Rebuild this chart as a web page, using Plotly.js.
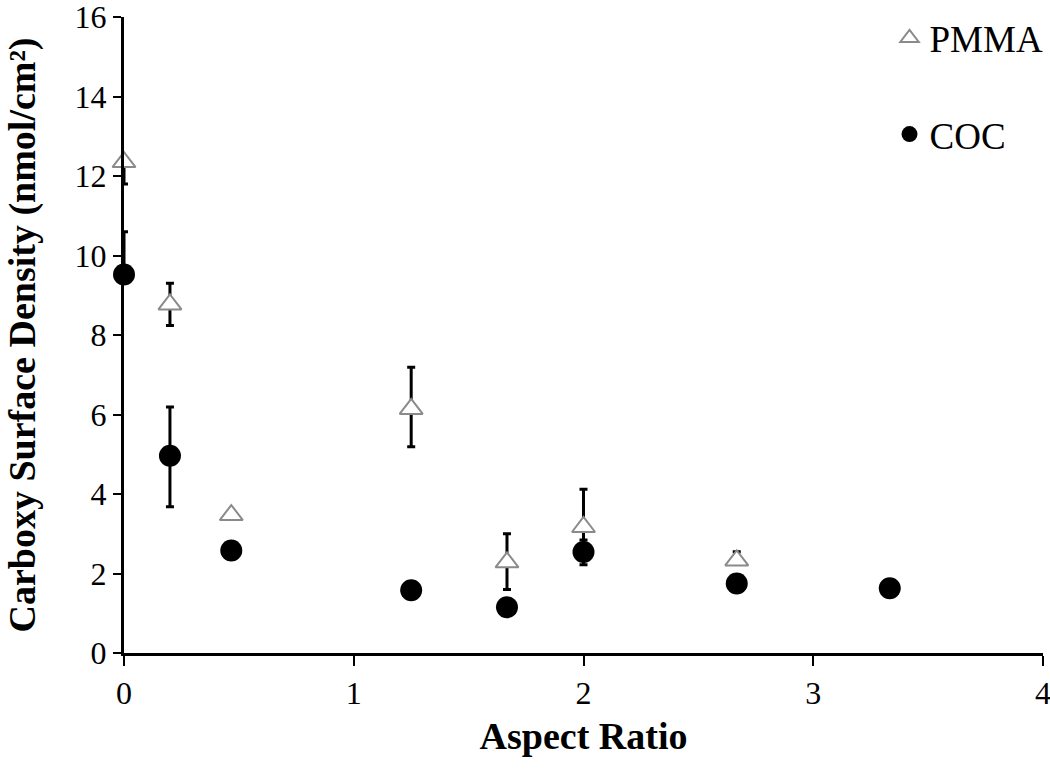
<!DOCTYPE html>
<html>
<head>
<meta charset="utf-8">
<script src="https://cdn.plot.ly/plotly-3.0.1.min.js"></script>
<style>html,body{margin:0;padding:0;background:#fff;}#chart{width:1050px;height:769px;}</style>
</head>
<body>
<div id="chart"></div>
<script>
// PMMA series
const pmmaX = [0, 0.2, 0.467, 1.25, 1.667, 2.0, 2.667];
const pmmaY = [12.35, 8.77, 3.47, 6.14, 2.28, 3.17, 2.33];
const pmmaErrPlus = [0, 0.53, 0, 1.05, 0.72, 0.95, 0.22];
const pmmaErrMinus = [0.55, 0.53, 0, 0.95, 0.68, 0.95, 0];
// COC series
const cocX = [0, 0.2, 0.467, 1.25, 1.667, 2.0, 2.667, 3.333];
const cocY = [9.52, 4.96, 2.58, 1.58, 1.15, 2.54, 1.75, 1.63];
const cocErrPlus = [1.08, 1.23, 0, 0, 0, 0.3, 0, 0];
const cocErrMinus = [0, 1.28, 0.22, 0, 0, 0.2, 0, 0];

const serif = 'Liberation Serif, Times New Roman, serif';

const pmma = {
  x: pmmaX, y: pmmaY, name: 'PMMA', type: 'scatter', mode: 'markers',
  legendrank: 1, legendgroup: 'pmma', cliponaxis: false,
  marker: {symbol: 'triangle-up', size: 20, color: '#ffffff', line: {color: '#8a8a8a', width: 2}},
  error_y: {type: 'data', symmetric: false, array: pmmaErrPlus, arrayminus: pmmaErrMinus,
            visible: true, color: '#000', thickness: 3, width: 4}
};
const coc = {
  x: cocX, y: cocY, name: 'COC', type: 'scatter', mode: 'markers',
  legendrank: 2, legendgroup: 'coc', cliponaxis: false,
  marker: {symbol: 'circle', size: 22, color: '#000000', line: {color: '#000', width: 0}},
  error_y: {type: 'data', symmetric: false, array: cocErrPlus, arrayminus: cocErrMinus,
            visible: true, color: '#000', thickness: 3, width: 4}
};

const layout = {
  width: 1050, height: 769,
  paper_bgcolor: '#fff', plot_bgcolor: '#fff',
  margin: {l: 124, r: 7, t: 17, b: 116, autoexpand: false},
  font: {family: serif, color: '#000', size: 32},
  showlegend: true,
  legend: {
    x: 0.833, y: 1.015, xanchor: 'left', yanchor: 'top',
    traceorder: 'grouped', tracegroupgap: 45,
    font: {family: serif, size: 37, color: '#000'},
    bgcolor: 'rgba(0,0,0,0)', itemwidth: 30
  },
  xaxis: {
    range: [0, 4], tickvals: [0, 1, 2, 3, 4], ticktext: ['0', '1', '2', '3', '4'],
    automargin: false,
    showgrid: false, zeroline: false, showline: true, linecolor: '#000', linewidth: 3,
    ticks: 'outside', ticklen: 10, tickwidth: 2, tickcolor: '#000',
    ticklabelstandoff: 0, ticklabeloverflow: 'allow',
    tickfont: {family: serif, size: 32},
    title: {text: '<b>Aspect Ratio</b>', font: {family: serif, size: 38}, standoff: 12}
  },
  yaxis: {
    range: [0, 16], tickvals: [0, 2, 4, 6, 8, 10, 12, 14, 16],
    automargin: false,
    showgrid: false, zeroline: false, showline: true, linecolor: '#000', linewidth: 3,
    ticks: 'outside', ticklen: 8, tickwidth: 2, tickcolor: '#000',
    ticklabelstandoff: 0, ticklabeloverflow: 'allow',
    tickfont: {family: serif, size: 32},
    title: {text: '<b>Carboxy Surface Density (nmol/cm²)</b>', font: {family: serif, size: 38}, standoff: 28}
  }
};

Plotly.newPlot('chart', [coc, pmma], layout, {displayModeBar: false, staticPlot: true});
</script>
</body>
</html>
